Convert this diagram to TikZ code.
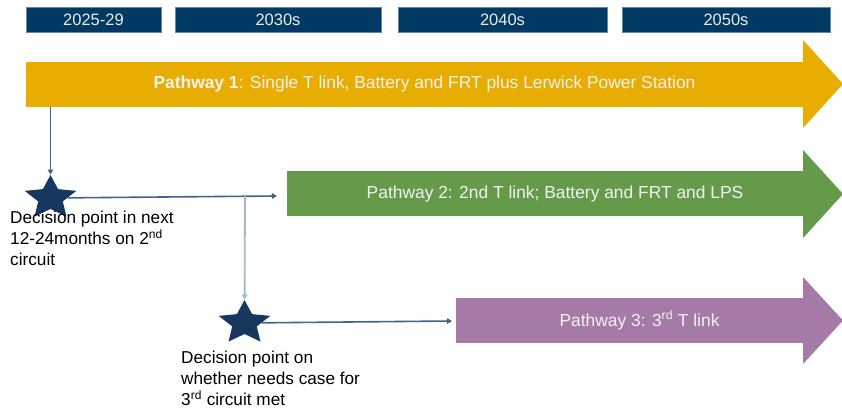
\documentclass[tikz,border=0pt]{standalone}
\usepackage{fontspec}
\setmainfont{Liberation Sans}
\usepackage{tikz}
\usetikzlibrary{positioning}
\usetikzlibrary{arrows.meta}
\usetikzlibrary{shapes.geometric}
\usepackage{xcolor}

\definecolor{headerblue}{RGB}{0,57,99}
\definecolor{starblue}{RGB}{23,55,94}
\definecolor{pathyellow}{RGB}{233,172,0}
\definecolor{pathgreen}{RGB}{100,154,74}
\definecolor{pathpurple}{RGB}{166,122,166}
\definecolor{linkblue}{RGB}{62,102,138}
\definecolor{branchblue}{RGB}{162,184,205}

\begin{document}
\begin{tikzpicture}[x=1pt, y=1pt]
\tikzstyle{periodStyle}=[draw=headerblue!60!white, line width=0.6pt, fill=headerblue, text=white!92!black, minimum height=25pt, inner sep=0pt, font=\fontsize{16.5}{19}\selectfont]
\tikzstyle{pathwayStyle}=[minimum height=45pt, inner sep=0pt, text=white!95!black, font=\fontsize{17.4}{20}\selectfont]
\tikzstyle{starStyle}=[star, star points=5, star point ratio=2.1, minimum size=46pt, inner sep=0pt, fill=starblue, xscale=1.18, transform shape]
\tikzstyle{noteStyle}=[anchor=north west, align=left, inner sep=0pt, font=\fontsize{17.2}{21}\selectfont]
\tikzstyle{EdgeStyle}=[line width=1.6pt, color=linkblue, -{Triangle[length=5pt, width=5.5pt]}]
\tikzstyle{BranchStyle}=[line width=1.8pt, color=branchblue, -{Triangle[length=5pt, width=5.5pt]}]
\useasboundingbox (0,0) rectangle (842,414);

% time periods
\node[periodStyle, minimum width=135pt] (p1) at (93.5,394.5) {2025-29};
\node[periodStyle, minimum width=206pt] (p2) at (278,394.5) {2030s};
\node[periodStyle, minimum width=209pt] (p3) at (502.5,394.5) {2040s};
\node[periodStyle, minimum width=208pt] (p4) at (726,394.5) {2050s};

% pathway arrows
\fill[pathyellow] (803,374) -- (843,330) -- (803,286) -- cycle;
\node[pathwayStyle, fill=pathyellow, minimum width=797pt] (pw1) at (424.5,329.5) {\textbf{Pathway 1}: Single T link, Battery and FRT plus Lerwick Power Station};
\fill[pathgreen] (803,264) -- (843,220) -- (803,176) -- cycle;
\node[pathwayStyle, fill=pathgreen, minimum width=536pt] (pw2) at (555,220) {Pathway 2: 2nd T link; Battery and FRT and LPS};
\fill[pathpurple] (803,137) -- (843,93.5) -- (803,50) -- cycle;
\node[pathwayStyle, fill=pathpurple, minimum width=367pt] (pw3) at (639.5,93.5) {Pathway 3: 3\textsuperscript{rd} T link};

% decision points
\node[starStyle] (dp1) at (50.5,216) {};
\node[starStyle] (dp2) at (244.5,91) {};
\node[noteStyle] (n1) at (10,203) {Decision point in next\\12-24months on 2\textsuperscript{nd}\\circuit};
\node[noteStyle] (n2) at (181,63) {Decision point on\\whether needs case for\\3\textsuperscript{rd} circuit met};

\coordinate (tip1) at (277,218);
\coordinate (j1) at (245,218);
\coordinate (tip2) at (452,93);

\draw[EdgeStyle] (pw1.south -| dp1) -- (dp1);
\draw[EdgeStyle] (dp1) -- (tip1);
\draw[BranchStyle] (j1) -- (dp2);
\draw[EdgeStyle] (dp2) -- (tip2);
\end{tikzpicture}
\end{document}
